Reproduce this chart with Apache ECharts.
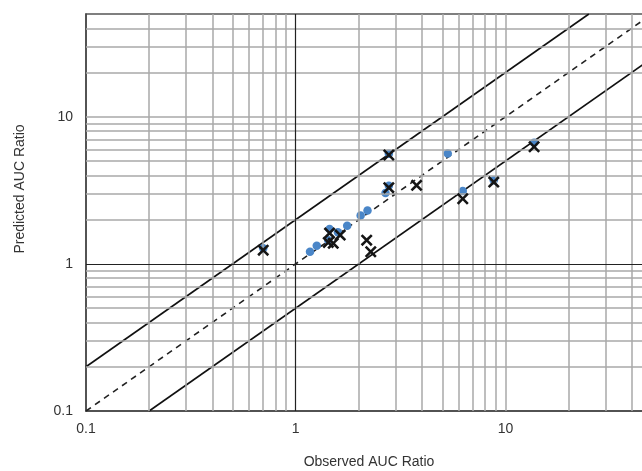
<!DOCTYPE html>
<html>
<head>
<meta charset="utf-8">
<script src="https://cdn.jsdelivr.net/npm/echarts@6/dist/echarts.min.js"></script>
<style>html,body{margin:0;padding:0;background:#fff;}#c{width:642px;height:471px;}</style>
</head>
<body>
<div id="c"></div>
<script>
// Observed vs predicted AUC ratios
var crossX = [0.70, 2.78, 2.78, 3.77, 8.80, 6.26, 2.18, 2.28, 1.45, 1.63, 1.43, 1.51, 13.7];
var crossY = [1.24, 5.50, 3.30, 3.42, 3.60, 2.77, 1.45, 1.21, 1.62, 1.57, 1.40, 1.38, 6.26];
var dotX = [1.17, 1.26, 1.45, 1.59, 1.76, 2.04, 2.20, 2.68, 5.31, 6.26, 13.7, 0.70, 2.78, 2.78, 8.80, 1.43];
var dotY = [1.21, 1.33, 1.73, 1.64, 1.82, 2.13, 2.31, 3.03, 5.64, 3.13, 6.67, 1.28, 5.60, 3.40, 3.70, 1.45];
var tickValues = [0.1, 1, 10];
var tickLabels = ['0.1', '1', '10'];
var minorGrid = [0.2,0.3,0.4,0.5,0.6,0.7,0.8,0.9,2,3,4,5,6,7,8,9,10,20,30,40];
var majorGrid = [1];
var upperLine = [[0.1, 0.2], [25, 50]];
var unityLine = [[0.1, 0.1], [50, 50]];
var lowerLine = [[0.2, 0.1], [50, 25]];

function zip(a, b) { return a.map(function (v, i) { return [v, b[i]]; }); }
function fmt(v) {
  for (var i = 0; i < tickValues.length; i++) {
    if (Math.abs(v - tickValues[i]) < 1e-9 * tickValues[i]) return tickLabels[i];
  }
  return '';
}
var gridLines = [];
minorGrid.forEach(function (v) {
  gridLines.push({xAxis: v, lineStyle: {color: '#a8a8a8', width: 1.5, type: 'solid'}});
  gridLines.push({yAxis: v, lineStyle: {color: '#a8a8a8', width: 1.5, type: 'solid'}});
});
majorGrid.forEach(function (v) {
  gridLines.push({xAxis: v, lineStyle: {color: '#222', width: 1.2, type: 'solid'}});
  gridLines.push({yAxis: v, lineStyle: {color: '#222', width: 1.2, type: 'solid'}});
});

var font = 'Liberation Sans, Arial, sans-serif';
var chart = echarts.init(document.getElementById('c'));
chart.setOption({
  animation: false,
  backgroundColor: '#fff',
  grid: {left: 86, top: 14, width: 566, height: 397, containLabel: false, outerBoundsMode: 'none',
    show: true, borderColor: '#555', borderWidth: 1.5, backgroundColor: 'transparent'},
  xAxis: {
    type: 'log', logBase: 10, min: 0.1, max: 50,
    name: 'Observed AUC Ratio', nameLocation: 'middle', nameGap: 44,
    nameTextStyle: {fontFamily: font, fontSize: 14, color: '#333'},
    axisLine: {show: true, lineStyle: {color: '#444', width: 1.5}},
    axisTick: {show: false},
    splitLine: {show: false},
    axisLabel: {formatter: fmt, fontFamily: font, fontSize: 14, color: '#333', margin: 11, showMaxLabel: false}
  },
  yAxis: {
    type: 'log', logBase: 10, min: 0.1, max: 50,
    axisLine: {show: true, lineStyle: {color: '#444', width: 1.5}},
    axisTick: {show: false},
    splitLine: {show: false},
    axisLabel: {formatter: fmt, fontFamily: font, fontSize: 14, color: '#333', margin: 13, showMaxLabel: false}
  },
  graphic: [{
    type: 'text', x: 20, y: 189, rotation: Math.PI / 2,
    style: {text: 'Predicted AUC Ratio', font: '14px ' + font, fill: '#333', align: 'center', verticalAlign: 'middle'}
  }],
  series: [
    {
      type: 'line', data: [], silent: true,
      markLine: {silent: true, symbol: ['none', 'none'], label: {show: false}, animation: false, data: gridLines},
      z: 1
    },
    {type: 'line', data: upperLine, showSymbol: false, symbol: 'none', silent: true, lineStyle: {color: '#111', width: 1.6}, z: 3},
    {type: 'line', data: unityLine, showSymbol: false, symbol: 'none', silent: true, lineStyle: {color: '#222', width: 1.6, type: [6, 5]}, z: 3},
    {type: 'line', data: lowerLine, showSymbol: false, symbol: 'none', silent: true, lineStyle: {color: '#111', width: 1.6}, z: 3},
    {type: 'scatter', data: zip(dotX, dotY), symbol: 'circle', symbolSize: 8.5, itemStyle: {color: '#4a86c8', opacity: 1}, z: 4},
    {type: 'scatter', data: zip(crossX, crossY),
      symbol: 'path://M0,1.5L1.5,0L5,3.5L8.5,0L10,1.5L6.5,5L10,8.5L8.5,10L5,6.5L1.5,10L0,8.5L3.5,5Z',
      symbolSize: 12, itemStyle: {color: '#151515', opacity: 1}, z: 5}
  ]
});
</script>
</body>
</html>
